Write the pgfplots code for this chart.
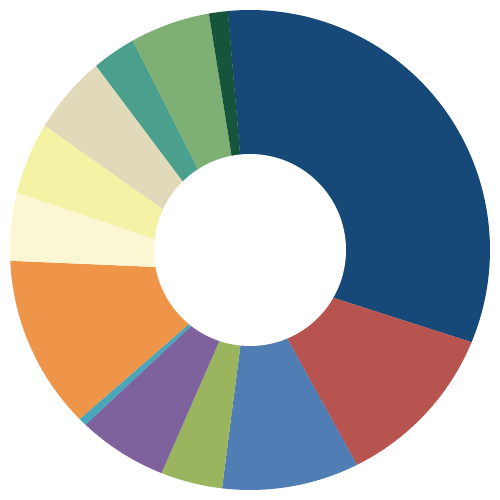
\documentclass[border=0pt]{standalone}
\usepackage{pgfplots}
\usepackage{pgfplotstable}
\pgfplotsset{compat=1.18}

\definecolor{c1}{HTML}{164878}
\definecolor{c2}{HTML}{B85450}
\definecolor{c3}{HTML}{4F7DB4}
\definecolor{c4}{HTML}{9AB55D}
\definecolor{c5}{HTML}{7E629D}
\definecolor{c6}{HTML}{4AA6BB}
\definecolor{c7}{HTML}{EF954A}
\definecolor{c8}{HTML}{FAF7D2}
\definecolor{c9}{HTML}{F3F2A5}
\definecolor{c10}{HTML}{E0DABB}
\definecolor{c11}{HTML}{4BA08D}
\definecolor{c12}{HTML}{7EB074}
\definecolor{c13}{HTML}{14553C}

% shares in percent, clockwise from the top
\pgfplotstableread{
share color
31.31 c1
12.03 c2
10.06 c3
4.53  c4
6.47  c5
0.58  c6
12.06 c7
4.47  c8
4.67  c9
4.94  c10
2.75  c11
4.97  c12
1.17  c13
}\slices

\begin{document}
\begin{tikzpicture}
\begin{axis}[hide axis, scale only axis, x=4cm, y=4cm,
  xmin=-1.0417, xmax=1.0417, ymin=-1.0417, ymax=1.0417, clip=false]
\pgfplotstablegetrowsof{\slices}
\pgfmathtruncatemacro\nlast{\pgfplotsretval-1}
\def\dy{0.0875}% wedges meet a little below the ring centre
\def\ang{94.9}
\pgfplotsforeachungrouped \i in {0,...,\nlast}{%
  \pgfplotstablegetelem{\i}{share}\of\slices \let\val\pgfplotsretval
  \pgfplotstablegetelem{\i}{color}\of\slices \let\col\pgfplotsretval
  \pgfmathsetmacro\angb{\ang-3.6*\val}
  % where both edges of the wedge hit the outer circle
  \pgfmathsetmacro\ta{\dy*sin(\ang)+sqrt(1-(\dy*cos(\ang))^2)}
  \pgfmathsetmacro\xa{\ta*cos(\ang)}
  \pgfmathsetmacro\ya{\ta*sin(\ang)-\dy}
  \pgfmathsetmacro\pa{atan2(\ya,\xa)}
  \pgfmathsetmacro\tb{\dy*sin(\angb)+sqrt(1-(\dy*cos(\angb))^2)}
  \pgfmathsetmacro\xb{\tb*cos(\angb)}
  \pgfmathsetmacro\yb{\tb*sin(\angb)-\dy}
  \pgfmathsetmacro\pb{atan2(\yb,\xb)}
  \pgfmathsetmacro\pb{\pb>\pa ? \pb-360 : \pb}
  \edef\slicepath{\noexpand\fill[\col] (axis cs:0,-\dy) -- (axis cs:\xa,\ya)
    arc[start angle=\pa, end angle=\pb, radius=4cm] -- cycle;}
  \slicepath
  \global\let\ang\angb
}
\fill[white] (axis cs:0,0) circle[radius=1.6cm];
\end{axis}
% page = the axis box, whatever the arcs' control points say
\pgfresetboundingbox
\useasboundingbox (current axis.south west) rectangle (current axis.north east);
\end{tikzpicture}
\end{document}
